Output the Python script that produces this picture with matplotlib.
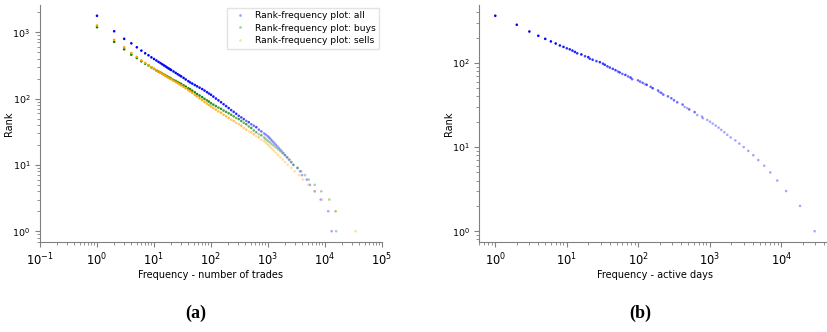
import numpy as np
import matplotlib
matplotlib.use("Agg")
import matplotlib.pyplot as plt
from matplotlib.lines import Line2D
from matplotlib.colors import to_rgba

# ---------------- data ----------------
# (a) rank-frequency: number of trades
all_freq = [1, 2, 3, 4, 5, 6, 7, 8, 9, 10, 11, 12, 13, 14, 15, 16, 17, 18, 19, 20,
            22, 24, 26, 28, 30, 33, 36, 40, 43, 47, 52, 57, 63, 70, 77, 85, 92, 100,
            110, 122, 135, 150, 166, 184, 204, 226, 250, 277, 307, 340, 376, 416, 460,
            509, 563, 623, 690, 763, 845, 891, 940, 996, 1038, 1083, 1133, 1185, 1247,
            1310, 1380, 1459, 1550, 1650, 1758, 1874, 2000, 2147, 2318, 2518,
            2780, 3270, 3640, 3950, 4780, 5450, 6600, 8400, 11400, 13100]
all_rank = [1770, 1035, 795, 680, 593, 528, 481, 449, 418, 395, 375, 357, 342, 328, 316,
            305, 294, 285, 277, 269, 256, 244, 233, 224, 216, 205, 194, 183, 175, 168,
            160, 153, 146, 139, 132, 125, 119, 114, 107, 100, 94, 88, 82, 77, 72, 67, 63,
            59, 55, 52, 49, 46, 44, 41, 39, 37, 34, 32, 30, 29, 28, 27, 26, 25, 24,
            23, 22, 21, 20, 19, 18, 17, 16, 15, 14, 13, 12, 11, 10, 9, 8, 7, 6, 5, 4, 3,
            2, 1]

buy_freq = [1, 2, 3, 4, 5, 6, 7, 8, 9, 10, 11, 12, 13, 14, 15, 16, 17, 18, 19, 20,
            22, 24, 26, 28, 30, 33, 36, 40, 43, 47, 52, 57, 63, 70, 77, 85, 92, 100,
            110, 122, 135, 150, 166, 184, 204, 226, 250, 277, 307, 340, 376, 416, 460,
            509, 563, 623, 690, 763, 845, 891, 942, 997, 1062, 1132, 1210, 1297, 1400,
            1515, 1644, 1796, 1974, 2183, 2400, 2600, 2800, 3320, 3840, 4460, 5180,
            6600, 8600, 11900, 15300, 15700]
buy_rank = [1190, 716, 553, 459, 409, 364, 336, 316, 295, 279, 266, 255, 246, 237, 229,
            222, 216, 210, 205, 200, 191, 184, 177, 171, 166, 158, 151, 143, 138, 131,
            124, 117, 111, 105, 99, 94, 90, 85, 81, 77, 73, 70, 66, 63, 60, 57, 54, 51,
            49, 46, 43, 41, 38, 36, 33, 31, 29, 28, 26, 25, 24, 23, 22, 21, 20, 19, 18,
            17, 16, 15, 14, 13, 12, 11, 10, 9, 8, 7, 6, 5, 4, 3, 2, 1]

sell_freq = [1, 2, 3, 4, 5, 6, 7, 8, 9, 10, 11, 12, 13, 14, 15, 16, 17, 18, 19, 20,
             22, 24, 26, 28, 30, 33, 36, 40, 43, 47, 52, 57, 63, 70, 77, 85, 92, 100,
             110, 122, 135, 150, 166, 184, 204, 226, 250, 277, 307, 340, 376, 416, 460,
             509, 563, 623, 690, 763, 845, 900, 949, 1003, 1064, 1135, 1211, 1298, 1400,
             1516, 1651, 1810, 1990, 2210, 2570, 2940, 3500, 4110, 5090, 6600, 8970,
             15400, 34500]
sell_rank = [1265, 767, 593, 487, 424, 376, 344, 318, 297, 281, 267, 255, 245, 235, 227,
             219, 212, 206, 200, 195, 186, 178, 171, 164, 158, 150, 143, 134, 129, 122,
             114, 108, 101, 95, 89, 84, 80, 76, 72, 68, 64, 61, 57, 54, 51, 48, 46, 43,
             41, 39, 36, 34, 32, 31, 29, 27, 26, 24, 23, 22, 21, 20, 19, 18, 17, 16, 15,
             14, 13, 12, 11, 10, 9, 8, 7, 6, 5, 4, 3, 2, 1]

# (b) rank-frequency: active days
day_freq = [1, 2, 3, 4, 5, 6, 7, 8, 9, 10, 11, 12, 13, 14, 16, 18, 20, 21, 23, 26, 29,
            32, 34, 37, 40, 44, 48, 52, 55, 60, 66, 72, 78, 82, 99, 106, 115, 123, 131,
            149, 159, 189, 197, 210, 224, 260, 290, 316, 351, 417, 445, 484, 517, 615,
            669, 778, 800, 923, 1010, 1100, 1210, 1330, 1450, 1600, 1760, 1960, 2280,
            2590, 2980, 3460, 4060, 4770, 5780, 7020, 8790, 11700, 18300, 29300]
day_rank = [363, 284, 236, 210, 193, 180, 170, 161, 155, 149, 145, 140, 135, 130, 126,
            120, 117, 112, 109, 105, 102, 98, 95, 91, 88, 85, 82, 79, 77, 74, 72, 69, 67,
            64, 62, 60, 58, 56, 55, 52, 50, 47, 45, 44, 42, 40, 38, 36, 34, 32, 30, 29,
            28, 26, 24, 23, 22, 21, 20, 19, 18, 17, 16, 15, 14, 13, 12, 11, 10, 9, 8, 7,
            6, 5, 4, 3, 2, 1]

labels_a = ["Rank-frequency plot: all", "Rank-frequency plot: buys",
            "Rank-frequency plot: sells"]
colors_a = ["blue", "green", "orange"]
xticks_a = [1e-1, 1e0, 1e1, 1e2, 1e3, 1e4, 1e5]
yticks_a = [1e0, 1e1, 1e2, 1e3]
xticks_b = [1e0, 1e1, 1e2, 1e3, 1e4]
yticks_b = [1e0, 1e1, 1e2]
ALPHA = 0.35


def point_colors(rank, color):
    """Overlap of identical points -> stronger opacity (multiplicity = rank drop)."""
    r = np.asarray(rank, dtype=float)
    mult = np.maximum(r - np.append(r[1:], 0), 1)
    a = 1 - (1 - ALPHA) ** mult
    rgba = np.tile(to_rgba(color), (len(r), 1))
    rgba[:, 3] = a
    return rgba


def style(ax, xl, yl, xsize, ysize, ylab_x, xt, yt):
    ax.set_xscale("log")
    ax.set_yscale("log")
    xlim, ylim = ax.get_xlim(), ax.get_ylim()
    ax.set_xticks(xt)
    ax.set_yticks(yt)
    ax.set_xlim(xlim)
    ax.set_ylim(ylim)
    for s in ("top", "right"):
        ax.spines[s].set_visible(False)
    for s in ("left", "bottom"):
        ax.spines[s].set_color("#808080")
    ax.tick_params(axis="both", which="both", colors="#808080", labelcolor="black")
    ax.tick_params(axis="x", labelsize=xsize)
    ax.tick_params(axis="y", labelsize=ysize)
    ax.set_xlabel(xl, fontsize=7, labelpad=1)
    ax.set_ylabel(yl, fontsize=7)
    ax.yaxis.set_label_coords(ylab_x, 0.5)


fig = plt.figure(figsize=(8.27, 3.32), dpi=100)
axa = fig.add_axes([40 / 827, 90 / 332, 342 / 827, 237 / 332])
axb = fig.add_axes([479.3 / 827, 90 / 332, 351.3 / 827, 237 / 332])

series_a = [(all_freq, all_rank), (buy_freq, buy_rank), (sell_freq, sell_rank)]
handles = []
for (fx, ry), c, lab in zip(series_a, colors_a, labels_a):
    axa.scatter(fx, ry, s=3.5, c=point_colors(ry, c), linewidths=0, marker="o")
    handles.append(Line2D([], [], ls="none", marker="o", ms=2, mew=0,
                          color=c, alpha=ALPHA, label=lab))
axa.set_xscale("log")
axa.set_yscale("log")
axa.set_xlim(1e-1, 1e5)
style(axa, "Frequency - number of trades", "Rank", 8.3, 6.8, -0.075,
      xticks_a, yticks_a)
axa.legend(handles=handles, loc="upper right", fontsize=6.6, frameon=True,
           handletextpad=0.6, borderaxespad=0.3, labelspacing=0.35,
           edgecolor="#dddddd", fancybox=False)

axb.scatter(day_freq, day_rank, s=3.5, c=point_colors(day_rank, "blue"),
            linewidths=0, marker="o")
axb.set_xscale("log")
axb.set_yscale("log")
style(axb, "Frequency - active days", "Rank", 8.3, 6.8, -0.073,
      xticks_b, yticks_b)

fig.text(196 / 827, 1 - 313 / 332, "(a)", ha="center", va="center",
         fontsize=13, fontweight="bold", family="Liberation Serif")
fig.text(640 / 827, 1 - 313 / 332, "(b)", ha="center", va="center",
         fontsize=13, fontweight="bold", family="Liberation Serif")

fig.savefig("out.png", dpi=100)
